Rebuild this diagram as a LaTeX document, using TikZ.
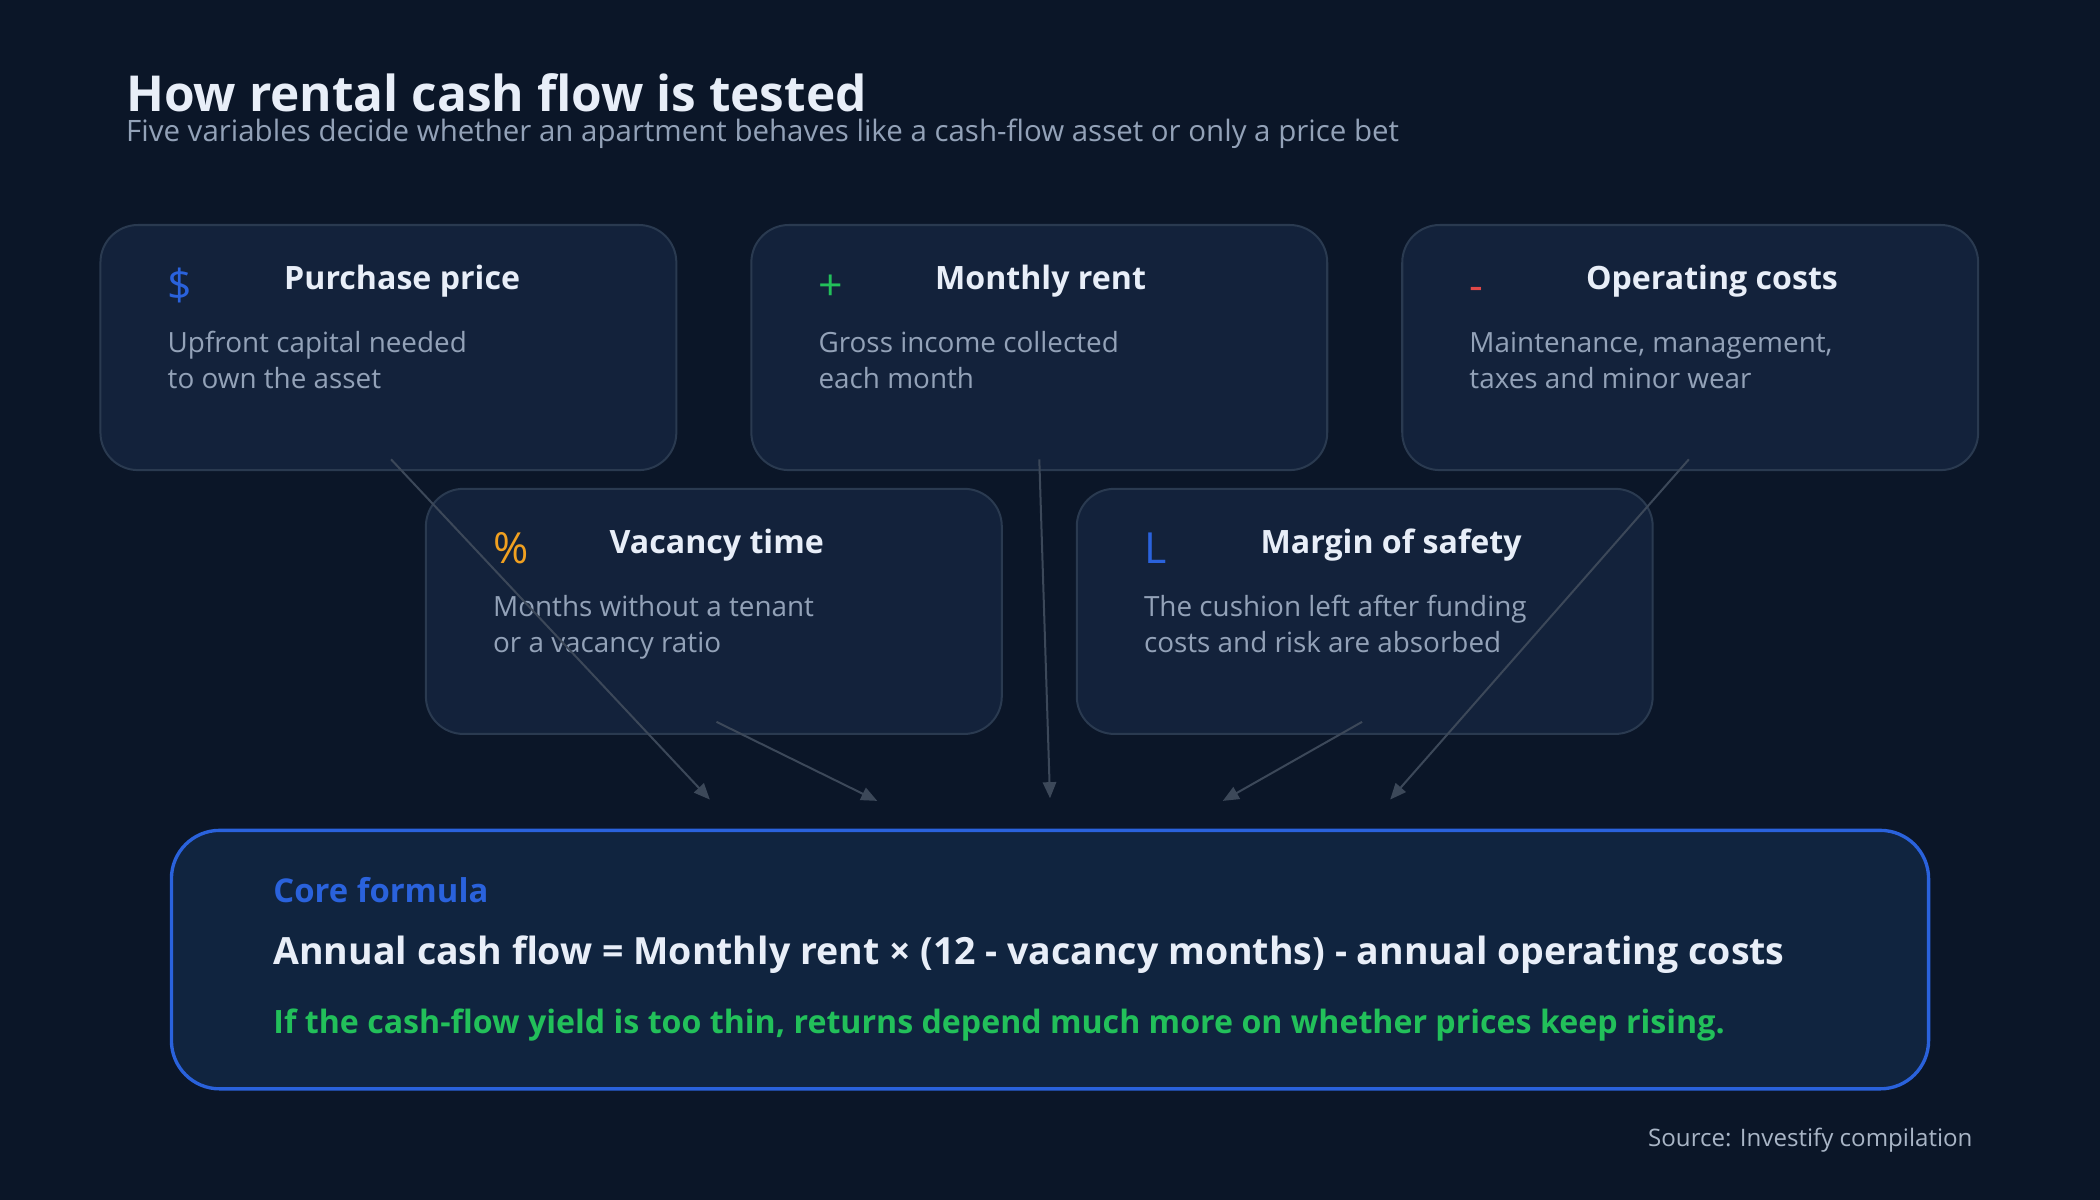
\documentclass[tikz,border=0pt]{standalone}
\usepackage{fontspec}
\setmainfont{Open Sans}
\usetikzlibrary{arrows.meta}
\definecolor{bg}{HTML}{0B1628}
\definecolor{boxf}{HTML}{13223B}
\definecolor{boxd}{HTML}{2A3A50}
\definecolor{coref}{HTML}{10243F}
\definecolor{blu}{HTML}{2A62DC}
\definecolor{grn}{HTML}{22C05A}
\definecolor{red1}{HTML}{E04848}
\definecolor{orn}{HTML}{F0A020}
\definecolor{wht}{HTML}{E8EEF8}
\definecolor{gry}{HTML}{93A2B8}
\definecolor{arr}{HTML}{3C4859}
\begin{document}
\begin{tikzpicture}[x=1pt,y=-1pt,
  card/.style={draw=boxd,line width=1.5pt,fill=boxf,rounded corners=28pt},
  ttl/.style={anchor=base west,text=wht,font=\fontsize{24}{28}\selectfont\bfseries,inner sep=0},
  bod/.style={anchor=base west,text=gry,font=\fontsize{20.8}{27}\selectfont,align=left,inner sep=0},
  ico/.style={anchor=base west,font=\fontsize{32}{34}\selectfont,inner sep=0},
  con/.style={draw=arr,line width=1.5pt,-{Triangle[length=12pt,width=10pt]}}]
\fill[bg] (0,0) rectangle (1568,896);
\node[anchor=base west,text=wht,font=\fontsize{37}{40}\selectfont\bfseries,inner sep=0] (title) at (94,83) {How rental cash flow is tested};
\node[anchor=base west,text=gry,font=\fontsize{22}{24}\selectfont,inner sep=0] (sub) at (94,106) {Five variables decide whether an apartment behaves like a cash-flow asset or only a price bet};
% cards
\newcommand{\card}[7]{%
  \draw[card] (#1,#2) rectangle ++(430,183);
  \node[ico,text=#3] at (#1+50,#2+56) {#4};
  \node[ttl] at (#1+137,#2+48) {#5};
  \node[bod] at (#1+50,#2+122) {#6\\#7};}
\card{75}{168}{blu}{\$}{Purchase price}{Upfront capital needed}{to own the asset}
\card{561}{168}{grn}{+}{Monthly rent}{Gross income collected}{each month}
\card{1047}{168}{red1}{-}{Operating costs}{Maintenance, management,}{taxes and minor wear}
\card{318}{365}{orn}{\%}{Vacancy time}{Months without a tenant}{or a vacancy ratio}
\card{804}{365}{blu}{L}{Margin of safety}{The cushion left after funding}{costs and risk are absorbed}
% core
\draw[draw=blu,line width=2.5pt,fill=coref,rounded corners=36pt] (128,620) rectangle (1440,813);
\node[anchor=base west,text=blu,font=\fontsize{24.5}{28}\selectfont\bfseries,inner sep=0] (cf) at (204,674) {Core formula};
\node[anchor=base west,text=wht,font=\fontsize{28}{32}\selectfont\bfseries,inner sep=0] (fm) at (204,720) {Annual cash flow = Monthly rent × (12 - vacancy months) - annual operating costs};
\node[anchor=base west,text=grn,font=\fontsize{24}{28}\selectfont\bfseries,inner sep=0] (nt) at (204,772) {If the cash-flow yield is too thin, returns depend much more on whether prices keep rising.};
\node[anchor=base east,text=gry!80,font=\fontsize{18}{22}\selectfont,inner sep=0] (src) at (1473,856) {Source: Investify compilation};
% connectors
\coordinate (a1) at (292,343); \coordinate (b1) at (530,597);
\coordinate (a2) at (535,539); \coordinate (b2) at (655,598);
\coordinate (a3) at (776,343); \coordinate (b3) at (784,596);
\coordinate (a4) at (1017,539); \coordinate (b4) at (913,598);
\coordinate (a5) at (1261,343); \coordinate (b5) at (1038,597);
\foreach \i in {1,...,5} \draw[con] (a\i) -- (b\i);
\end{tikzpicture}
\end{document}
